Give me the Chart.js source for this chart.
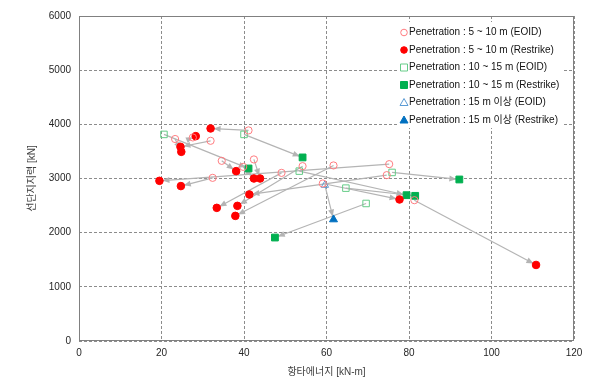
<!DOCTYPE html>
<html>
<head>
<meta charset="utf-8">
<script src="https://cdn.jsdelivr.net/npm/chart.js@4"></script>
<style>
  body { margin: 0; background: #fff; }
</style>
</head>
<body>
<canvas id="chart" width="597" height="378"></canvas>
<script>
// Penetration 5 ~ 10 m : EOID -> Restrike (same index = same pile)
const eoid510X = [41.1, 23.3, 27.6, 31.9, 34.6, 39.8, 42.4, 32.4, 49.1, 54.2, 61.7, 59.1, 75.2, 74.6, 81.3];
const eoid510Y = [3888, 3729, 3758, 3696, 3326, 3215, 3352, 3012, 3104, 3228, 3241, 2908, 3265, 3062, 2600];
const restrike510X = [31.9, 24.8, 28.3, 24.6, 38.1, 42.4, 43.9, 24.7, 33.4, 38.4, 37.9, 77.7, 19.5, 41.3, 110.8];
const restrike510Y = [3924, 3492, 3782, 3585, 3136, 3000, 3000, 2860, 2458, 2495, 2310, 2613, 2957, 2705, 1404];

// Penetration 10 ~ 15 m
const eoid1015X = [20.6, 40.0, 75.9, 69.6, 53.4, 64.7];
const eoid1015Y = [3814, 3814, 3112, 2539, 3136, 2822];
const restrike1015X = [41.1, 54.2, 92.2, 47.5, 79.4, 81.5];
const restrike1015Y = [3185, 3389, 2982, 1910, 2692, 2680];

// Penetration 15 m 이상
const eoid15X = [59.6];
const eoid15Y = [2877];
const restrike15X = [61.7];
const restrike15Y = [2243];

const xTicks = [0, 20, 40, 60, 80, 100, 120];
const yTicks = [0, 1000, 2000, 3000, 4000, 5000, 6000];

const legendLabels = [
  'Penetration : 5 ~ 10 m (EOID)',
  'Penetration : 5 ~ 10 m (Restrike)',
  'Penetration : 10 ~ 15 m (EOID)',
  'Penetration : 10 ~ 15 m (Restrike)',
  'Penetration : 15 m 이상 (EOID)',
  'Penetration : 15 m 이상 (Restrike)'
];

const pts = (xs, ys) => xs.map((v, i) => ({ x: v, y: ys[i] }));

const groups = [
  [eoid510X, eoid510Y, restrike510X, restrike510Y],
  [eoid1015X, eoid1015Y, restrike1015X, restrike1015Y],
  [eoid15X, eoid15Y, restrike15X, restrike15Y]
];

const FONT = "'Liberation Sans', Arial, 'Noto Sans CJK KR', sans-serif";

// grey arrows from EOID to Restrike, placed with the chart scales
const arrowPlugin = {
  id: 'arrows',
  beforeDatasetsDraw(chart) {
    const { ctx, chartArea: a, scales: { x, y } } = chart;
    ctx.save();
    ctx.strokeStyle = '#808080';
    ctx.lineWidth = 1;
    ctx.strokeRect(a.left + 0.5, a.top + 0.5, a.right - a.left - 1, a.bottom - a.top - 1);
    ctx.strokeStyle = '#b4b4b4';
    ctx.fillStyle = '#b4b4b4';
    ctx.lineWidth = 1.2;
    groups.forEach(([ex, ey, rx, ry]) => {
      ex.forEach((_, i) => {
        const x1 = x.getPixelForValue(ex[i]), y1 = y.getPixelForValue(ey[i]);
        const x2 = x.getPixelForValue(rx[i]), y2 = y.getPixelForValue(ry[i]);
        const ang = Math.atan2(y2 - y1, x2 - x1);
        const tx = x2 - Math.cos(ang) * 3, ty = y2 - Math.sin(ang) * 3;
        ctx.beginPath();
        ctx.moveTo(x1, y1);
        ctx.lineTo(tx, ty);
        ctx.stroke();
        ctx.beginPath();
        ctx.moveTo(tx, ty);
        ctx.lineTo(tx - 7 * Math.cos(ang) + 3 * Math.sin(ang), ty - 7 * Math.sin(ang) - 3 * Math.cos(ang));
        ctx.lineTo(tx - 7 * Math.cos(ang) - 3 * Math.sin(ang), ty - 7 * Math.sin(ang) + 3 * Math.cos(ang));
        ctx.closePath();
        ctx.fill();
      });
    });
    ctx.restore();
  }
};

// legend box inside the plot, top right
const legendPlugin = {
  id: 'boxLegend',
  afterDraw(chart) {
    const { ctx } = chart;
    ctx.save();
    ctx.fillStyle = '#fff';
    ctx.fillRect(398, 22, 166, 106);
    ctx.font = '10px ' + FONT;
    ctx.textBaseline = 'middle';
    ctx.textAlign = 'left';
    chart.data.datasets.forEach((ds, i) => {
      const cy = 32.5 + i * 17.5;
      ctx.fillStyle = ds.backgroundColor;
      ctx.strokeStyle = ds.borderColor;
      ctx.lineWidth = 1;
      ctx.beginPath();
      if (ds.pointStyle === 'circle') {
        ctx.arc(404, cy, 3.3, 0, Math.PI * 2);
      } else if (ds.pointStyle === 'rect') {
        ctx.rect(400.5, cy - 3.5, 7, 7);
      } else {
        ctx.moveTo(404, cy - 4);
        ctx.lineTo(408, cy + 3);
        ctx.lineTo(400, cy + 3);
        ctx.closePath();
      }
      ctx.fill();
      ctx.stroke();
      ctx.fillStyle = '#111';
      ctx.fillText(legendLabels[i], 409, cy);
    });
    ctx.restore();
  }
};

const open = 'rgba(255,255,255,0)';

new Chart(document.getElementById('chart').getContext('2d'), {
  type: 'scatter',
  data: {
    datasets: [
      { label: legendLabels[0], data: pts(eoid510X, eoid510Y), pointStyle: 'circle', pointRadius: 3.6,
        backgroundColor: open, borderColor: '#ff7c80', borderWidth: 1 },
      { label: legendLabels[1], data: pts(restrike510X, restrike510Y), pointStyle: 'circle', pointRadius: 3.8,
        backgroundColor: '#ff0000', borderColor: '#ff0000', borderWidth: 1 },
      { label: legendLabels[2], data: pts(eoid1015X, eoid1015Y), pointStyle: 'rect', pointRadius: 4.6,
        backgroundColor: open, borderColor: '#66cc88', borderWidth: 1 },
      { label: legendLabels[3], data: pts(restrike1015X, restrike1015Y), pointStyle: 'rect', pointRadius: 4.8,
        backgroundColor: '#00b050', borderColor: '#00b050', borderWidth: 1 },
      { label: legendLabels[4], data: pts(eoid15X, eoid15Y), pointStyle: 'triangle', pointRadius: 4.3,
        backgroundColor: open, borderColor: '#5b9bd5', borderWidth: 1 },
      { label: legendLabels[5], data: pts(restrike15X, restrike15Y), pointStyle: 'triangle', pointRadius: 4.6,
        backgroundColor: '#0070c0', borderColor: '#0070c0', borderWidth: 1 }
    ]
  },
  options: {
    responsive: false,
    animation: false,
    devicePixelRatio: 1,
    layout: { padding: { left: 0, top: 16, right: 23, bottom: 0 } },
    plugins: { legend: { display: false }, tooltip: { enabled: false } },
    scales: {
      x: {
        type: 'linear', min: 0, max: 120,
        afterBuildTicks: s => { s.ticks = xTicks.map(v => ({ value: v })); },
        afterFit: s => { s.height = 37; },
        grid: { color: '#8c8c8c', lineWidth: 1, drawTicks: false },
        border: { display: false, dash: [3, 2] },
        ticks: { padding: 6, color: '#262626', font: { size: 10, family: FONT }, callback: v => String(v) },
        title: { display: true, text: '항타에너지 [kN-m]', color: '#404040', padding: 0,
                 font: { size: 10, family: FONT } }
      },
      y: {
        type: 'linear', min: 0, max: 6000,
        afterBuildTicks: s => { s.ticks = yTicks.map(v => ({ value: v })); },
        afterFit: s => { s.width = 79; },
        grid: { color: '#8c8c8c', lineWidth: 1, drawTicks: false },
        border: { display: false, dash: [3, 2] },
        ticks: { padding: 8, color: '#262626', font: { size: 10, family: FONT }, callback: v => String(v) },
        title: { display: true, text: '선단지지력 [kN]', color: '#404040', padding: { top: 26, bottom: 0 },
                 font: { size: 10, family: FONT } }
      }
    }
  },
  plugins: [arrowPlugin, legendPlugin]
});
</script>
</body>
</html>
